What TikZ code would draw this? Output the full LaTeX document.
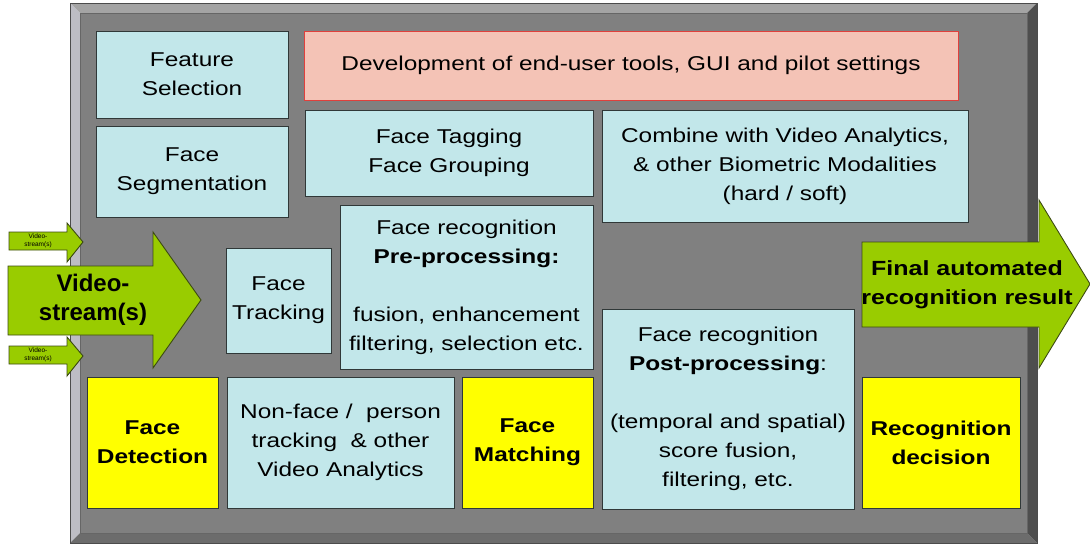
\documentclass[tikz,border=0pt]{standalone}
\usepackage{fontspec}
\setmainfont{Liberation Sans}[FakeStretch=1.22]
\newfontfamily\plainsans{Liberation Sans}
\definecolor{face}{HTML}{808080}
\definecolor{bevtop}{HTML}{A4A4A4}
\definecolor{bevleft}{HTML}{BDBDC4}
\definecolor{bevright}{HTML}{4E4E4E}
\definecolor{bevbot}{HTML}{6C6C6C}
\definecolor{lblue}{HTML}{C2E7EA}
\definecolor{yel}{HTML}{FFFF00}
\definecolor{pinkf}{HTML}{F4C3B6}
\definecolor{pinkl}{HTML}{E0403C}
\definecolor{grn}{HTML}{99CC00}
\definecolor{grnl}{HTML}{3C4A12}
\definecolor{boxline}{HTML}{303838}
\begin{document}
\begin{tikzpicture}[x=1pt,y=-1pt,
  bx/.style={draw=boxline, line width=0.9pt, fill=lblue, align=center, inner sep=0pt,
    font=\fontsize{20}{29}\selectfont},
  ybx/.style={bx, fill=yel, font=\fontsize{20}{29}\selectfont\bfseries},
  pbx/.style={bx, fill=pinkf, draw=pinkl},
  garrow/.style={fill=grn, draw=grnl, line width=0.9pt, line join=miter},
  gtext/.style={align=center, inner sep=0pt, font=\plainsans\fontsize{24}{29}\selectfont\bfseries},
  stext/.style={align=center, inner sep=0pt, font=\plainsans\fontsize{6.5}{7.5}\selectfont}]
\useasboundingbox (0,0) rectangle (1090,544);
% beveled frame
\fill[face] (80,13) rectangle (1027,533);
\fill[bevtop] (70,3) -- (1037,3) -- (1027,13) -- (80,13) -- cycle;
\fill[bevleft] (70,3) -- (80,13) -- (80,533) -- (70,543) -- cycle;
\fill[bevbot] (70,543) -- (80,533) -- (1027,533) -- (1037,543) -- cycle;
\fill[bevright] (1037,3) -- (1037,543) -- (1027,533) -- (1027,13) -- cycle;
\draw[black!70, line width=0.8pt] (70,3) rectangle (1037,543);
\draw[black!60, line width=0.5pt] (80,13) rectangle (1027,533);
% boxes
\node[bx, minimum width=192pt, minimum height=87pt] (feat) at (192,74.5) {Feature\\Selection};
\node[pbx, minimum width=654pt, minimum height=69pt] (dev) at (631,65.5) {Development of end-user tools, GUI and pilot settings};
\node[bx, minimum width=192pt, minimum height=91pt] (seg) at (192,171.5) {Face\\Segmentation};
\node[bx, minimum width=288pt, minimum height=86pt] (tag) at (449,153) {Face Tagging\\Face Grouping};
\node[bx, minimum width=366pt, minimum height=112pt] (comb) at (785,166) {Combine with Video Analytics,\\\& other Biometric Modalities\\(hard / soft)};
\node[bx, minimum width=253pt, minimum height=164pt] (pre) at (466.5,287) {Face recognition\\\textbf{Pre-processing:}\\[29pt]fusion, enhancement\\filtering, selection etc.};
\node[bx, minimum width=105pt, minimum height=105pt] (track) at (278.5,300.5) {Face\\Tracking};
\node[bx, minimum width=252pt, minimum height=200pt] (post) at (728,409) {Face recognition\\\textbf{Post-processing}:\\[29pt](temporal and spatial)\\score fusion,\\filtering, etc.};
\node[ybx, minimum width=131pt, minimum height=131pt] (det) at (152.5,442.5) {Face\\Detection};
\node[bx, minimum width=227pt, minimum height=131pt] (nonface) at (340.5,442.5) {Non-face /\ \ person\\tracking \ \& other\\Video Analytics};
\node[ybx, minimum width=131pt, minimum height=131pt] (match) at (527.5,442.5) {Face\\Matching};
\node[ybx, minimum width=158pt, minimum height=131pt] (dec) at (941,442.5) {Recognition\\decision};
% input arrows
\draw[garrow] (9,232) -- (67,232) -- (67,223) -- (83,242) -- (67,262) -- (67,250) -- (9,250) -- cycle;
\node[stext] (vs1) at (38,241) {Video-\\stream(s)};
\draw[garrow] (9,346) -- (67,346) -- (67,337) -- (83,356) -- (67,376) -- (67,364) -- (9,364) -- cycle;
\node[stext] (vs2) at (38,355) {Video-\\stream(s)};
\draw[garrow] (8,266) -- (153,266) -- (153,232) -- (201,300) -- (153,368) -- (153,335) -- (8,335) -- cycle;
\node[gtext] (vs) at (93,300) {Video-\\stream(s)};
% output arrow
\draw[garrow] (862,242) -- (1039,242) -- (1039,200) -- (1090,284) -- (1039,368) -- (1039,327) -- (862,327) -- cycle;
\node[align=center, inner sep=0pt, font=\fontsize{20.5}{29}\selectfont\bfseries] (res) at (967,285) {Final automated\\recognition result};
\end{tikzpicture}
\end{document}
